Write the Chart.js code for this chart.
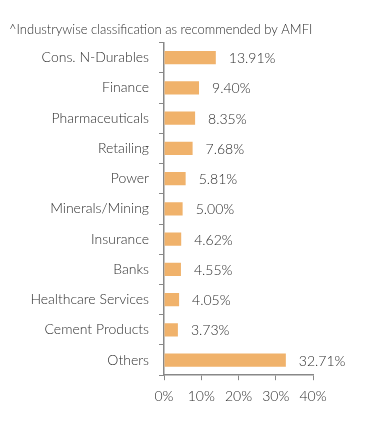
<!DOCTYPE html>
<html>
<head>
<meta charset="utf-8">
<script src="https://cdn.jsdelivr.net/npm/chart.js@4"></script>
<style>
  html, body { margin: 0; padding: 0; background: #fff; }
  #wrap { width: 391px; height: 427px; }
</style>
</head>
<body>
<div id="wrap"><canvas id="c" width="391" height="427"></canvas></div>
<script>
const titleText = "^Industrywise classification as recommended by AMFI";
const categories = ["Cons. N-Durables", "Finance", "Pharmaceuticals", "Retailing", "Power", "Minerals/Mining", "Insurance", "Banks", "Healthcare Services", "Cement Products", "Others"];
const values = [13.91, 9.40, 8.35, 7.68, 5.81, 5.00, 4.62, 4.55, 4.05, 3.73, 32.71];
const xTicks = [0, 10, 20, 30, 40];

const FONT = "Lato";
const TEXT = "#2e2e2e";
const W = '300';

const valueLabels = {
  id: 'valueLabels',
  afterDatasetsDraw(chart) {
    const ctx = chart.ctx;
    const meta = chart.getDatasetMeta(0);
    ctx.save();
    ctx.font = W + " 14px " + FONT;
    ctx.fillStyle = TEXT;
    ctx.textAlign = 'left';
    ctx.textBaseline = 'middle';
    meta.data.forEach((bar, i) => {
      ctx.fillText(values[i].toFixed(2) + '%', bar.x + 13, bar.y + 1);
    });
    ctx.restore();
  }
};

new Chart(document.getElementById('c'), {
  type: 'bar',
  data: {
    labels: categories,
    datasets: [{
      data: values,
      backgroundColor: '#F0B26B',
      borderWidth: 0,
      barPercentage: 0.44,
      categoryPercentage: 1.0
    }]
  },
  plugins: [valueLabels],
  options: {
    indexAxis: 'y',
    responsive: false,
    animation: false,
    layout: { padding: { left: 9, right: 78, top: 0, bottom: 14 } },
    plugins: {
      legend: { display: false },
      tooltip: { enabled: false },
      title: {
        display: true,
        text: titleText,
        align: 'start',
        color: TEXT,
        font: { family: FONT, size: 13, weight: W },
        padding: { top: 22, bottom: 5 }
      }
    },
    scales: {
      x: {
        min: 0, max: 40,
        afterBuildTicks(scale) { scale.ticks = xTicks.map(v => ({ value: v })); },
        ticks: {
          callback: v => v + '%',
          color: TEXT,
          font: { family: FONT, size: 14, weight: W },
          padding: 8,
          maxRotation: 0
        },
        grid: { drawOnChartArea: false, drawTicks: true, tickLength: 5, color: '#888888' },
        border: { display: true, color: '#888888', width: 1.5 }
      },
      y: {
        afterFit(scale) { scale.width = 155; },
        ticks: {
          color: TEXT,
          font: { family: FONT, size: 14, weight: W },
          padding: 10,
          autoSkip: false
        },
        grid: { drawOnChartArea: false, drawTicks: true, tickLength: 5, color: '#888888', offset: true },
        border: { display: true, color: '#888888', width: 1.5 }
      }
    }
  }
});
</script>
</body>
</html>
